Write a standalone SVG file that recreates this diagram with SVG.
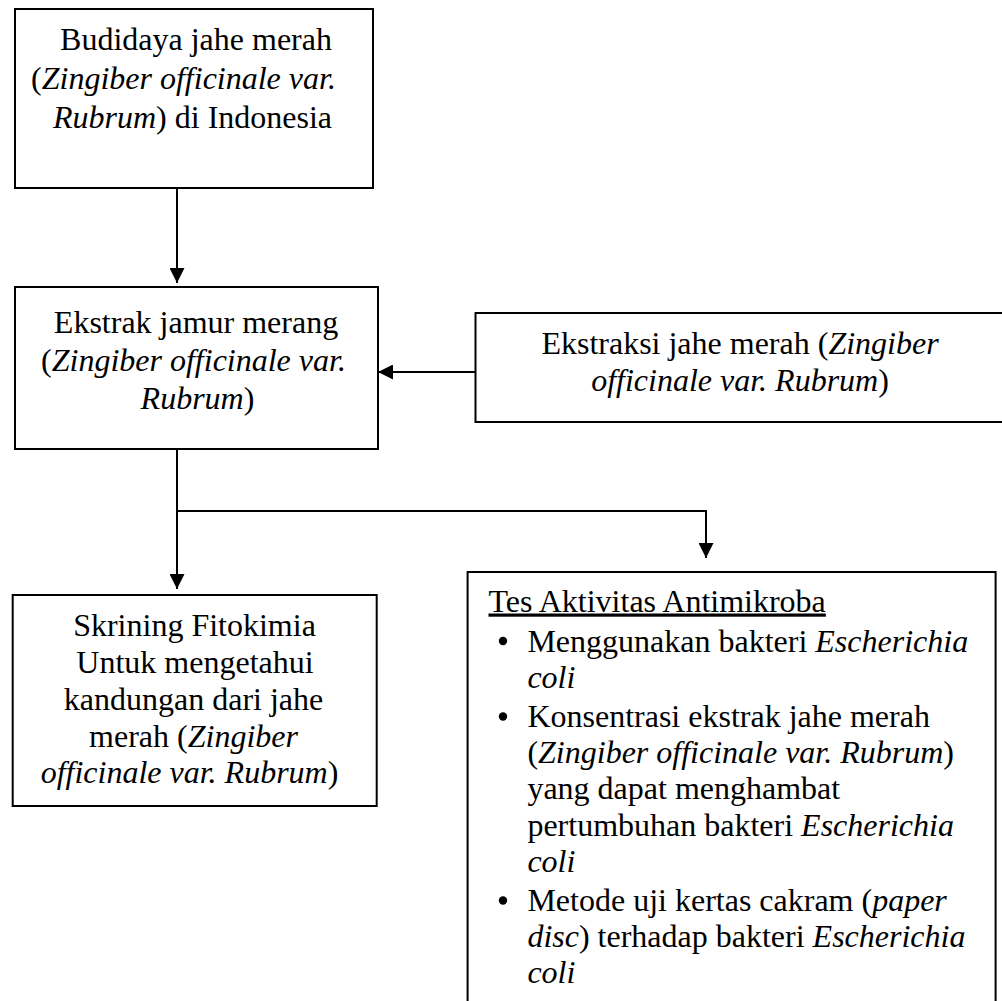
<svg xmlns="http://www.w3.org/2000/svg" width="1002" height="1001" viewBox="0 0 1002 1001">
<style>
.box{fill:#fff;stroke:#000;stroke-width:2}
.t{font-family:"Liberation Serif","Times New Roman",serif;font-size:32px;fill:#000}
.c{text-anchor:middle}
.i{font-style:italic}
.conn{fill:none;stroke:#000;stroke-width:2}
</style>
<defs>
<marker id="ah" viewBox="0 0 15 15" refX="15" refY="7.5" markerWidth="15" markerHeight="15" markerUnits="userSpaceOnUse" orient="auto">
<path d="M0,0 L15,7.5 L0,15 z" fill="#000"/>
</marker>
</defs>
<rect width="1002" height="1001" fill="#fff"/>
<g id="connectors">
<line class="conn" x1="177" y1="188" x2="177" y2="283" marker-end="url(#ah)"/>
<line class="conn" x1="475.5" y1="372" x2="378" y2="372" marker-end="url(#ah)"/>
<line class="conn" x1="177" y1="449" x2="177" y2="589" marker-end="url(#ah)"/>
<polyline class="conn" points="177,511 706,511 706,558" marker-end="url(#ah)"/>
</g>
<g id="node-budidaya">
<rect class="box" x="15" y="9" width="358" height="179"/>
<text class="t c" x="196" y="50">Budidaya jahe merah</text>
<text class="t c" x="183.5" y="89">(<tspan class="i">Zingiber officinale var.</tspan></text>
<text class="t c" x="192.5" y="128"><tspan class="i">Rubrum</tspan>) di Indonesia</text>
</g>
<g id="node-ekstrak">
<rect class="box" x="15" y="287" width="363" height="162"/>
<text class="t c" x="196" y="333">Ekstrak jamur merang</text>
<text class="t c" x="193.5" y="371">(<tspan class="i">Zingiber officinale var.</tspan></text>
<text class="t c" x="197.5" y="409"><tspan class="i">Rubrum</tspan>)</text>
</g>
<g id="node-ekstraksi">
<rect class="box" x="475.5" y="313" width="530" height="109"/>
<text class="t c" x="740" y="354">Ekstraksi jahe merah (<tspan class="i">Zingiber</tspan></text>
<text class="t c" x="740" y="391"><tspan class="i">officinale var. Rubrum</tspan>)</text>
</g>
<g id="node-skrining">
<rect class="box" x="12.7" y="595" width="364" height="211"/>
<text class="t c" x="194.5" y="636">Skrining Fitokimia</text>
<text class="t c" x="195" y="673">Untuk mengetahui</text>
<text class="t c" x="193.5" y="709.5">kandungan dari jahe</text>
<text class="t c" x="193.5" y="746.5">merah (<tspan class="i">Zingiber</tspan></text>
<text class="t c" x="189.5" y="783"><tspan class="i">officinale var. Rubrum</tspan>)</text>
</g>
<g id="node-tes">
<rect class="box" x="467.6" y="572" width="528" height="440"/>
<text class="t" x="488.5" y="611.5" text-decoration="underline">Tes Aktivitas Antimikroba</text>
<circle cx="503" cy="641" r="4.2" fill="#000"/>
<text class="t" x="527.4" y="651.5">Menggunakan bakteri <tspan class="i">Escherichia</tspan></text>
<text class="t i" x="527.4" y="687.7">coli</text>
<circle cx="503" cy="716.5" r="4.2" fill="#000"/>
<text class="t" x="527.4" y="727">Konsentrasi ekstrak jahe merah</text>
<text class="t" x="527.4" y="763.2">(<tspan class="i">Zingiber officinale var. Rubrum</tspan>)</text>
<text class="t" x="527.4" y="799.4">yang dapat menghambat</text>
<text class="t" x="527.4" y="835.6">pertumbuhan bakteri <tspan class="i">Escherichia</tspan></text>
<text class="t i" x="527.4" y="871.8">coli</text>
<circle cx="503" cy="900.5" r="4.2" fill="#000"/>
<text class="t" x="527.4" y="911">Metode uji kertas cakram (<tspan class="i">paper</tspan></text>
<text class="t" x="527.4" y="947.2"><tspan class="i">disc</tspan>) terhadap bakteri <tspan class="i">Escherichia</tspan></text>
<text class="t i" x="527.4" y="983.4">coli</text>
</g>
</svg>
